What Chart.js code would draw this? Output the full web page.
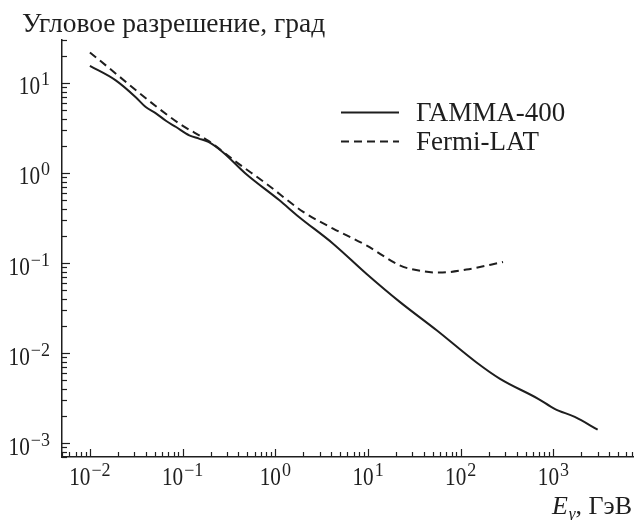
<!DOCTYPE html>
<html>
<head>
<meta charset="utf-8">
<script src="https://cdn.jsdelivr.net/npm/chart.js@4.4.0/dist/chart.umd.min.js"></script>
<style>
  body { margin: 0; background: #fff; }
  #wrap { width: 634px; height: 520px; }
</style>
</head>
<body>
<div id="wrap"><canvas id="resChart" width="634" height="520"></canvas></div>
<script>
// ГАММА-400
var gammaEnergy = [0.01, 0.019, 0.031, 0.04, 0.052, 0.066, 0.085, 0.118, 0.15, 0.19, 0.27, 0.48, 1.1, 1.8, 4.2, 9.6, 22, 55, 147, 263, 685, 1030, 1700, 3000];
var gammaRes = [15.5, 10.7, 7.0, 5.4, 4.57, 3.8, 3.24, 2.62, 2.41, 2.21, 1.71, 0.98, 0.5, 0.325, 0.164, 0.076, 0.037, 0.0179, 0.0079, 0.0052, 0.0031, 0.0024, 0.00195, 0.00141];

// Fermi-LAT
var fermiEnergy = [0.01, 0.092, 0.19, 0.38, 0.8, 2.0, 4.2, 9.6, 22, 28, 59, 115, 286];
var fermiRes = [21.8, 3.54, 2.27, 1.32, 0.76, 0.37, 0.241, 0.157, 0.094, 0.0866, 0.0782, 0.0845, 0.1026];

var seriesNames = ['ГАММА-400', 'Fermi-LAT'];
var xTicks = [0.01, 0.1, 1, 10, 100, 1000];
var xTickExps = ['−2', '−1', '0', '1', '2', '3'];
var yTicks = [0.001, 0.01, 0.1, 1, 10];
var yTickExps = ['−3', '−2', '−1', '0', '1'];
var yTitle = 'Угловое разрешение, град';
var xTitle = ['E', 'γ', ', ГэВ'];

var ink = '#1e1e1e';
var serif = '"Liberation Serif", "Times New Roman", serif';

function toPoints(xs, ys) {
    return xs.map(function (x, i) { return {x: x, y: ys[i]}; });
}

// short inward ticks for 1..9 of every decade
function drawLogTicks(ctx, scale, horizontal, area) {
    var lo = Math.floor(Math.log10(scale.min));
    var hi = Math.ceil(Math.log10(scale.max));
    for (var e = lo; e <= hi; e++) {
        for (var k = 1; k < 10; k++) {
            var v = k * Math.pow(10, e);
            if (v < scale.min * 0.999 || v > scale.max * 1.001) continue;
            var p = Math.round(scale.getPixelForValue(v)) + 0.5;
            var len = k === 1 ? 8 : 5;
            ctx.beginPath();
            if (horizontal) {
                ctx.moveTo(p, area.bottom);
                ctx.lineTo(p, area.bottom - len);
            } else {
                ctx.moveTo(area.left, p);
                ctx.lineTo(area.left + len, p);
            }
            ctx.stroke();
        }
    }
}

// "10" with a raised exponent; the digits are a bit condensed like the print
function drawPow(ctx, exp, x, y, align) {
    var squeeze = 0.85;
    ctx.font = '25px ' + serif;
    var wBase = ctx.measureText('10').width * squeeze;
    ctx.font = '18px ' + serif;
    var wExp = ctx.measureText(exp).width;
    var total = wBase + 1 + wExp;
    var left = align === 'center' ? x - total / 2 : x - total;
    ctx.save();
    ctx.translate(left, y);
    ctx.scale(squeeze, 1);
    ctx.font = '25px ' + serif;
    ctx.fillText('10', 0, 0);
    ctx.restore();
    ctx.font = '18px ' + serif;
    ctx.fillText(exp, left + wBase + 1, y - 9);
}

var decorPlugin = {
    id: 'decor',
    afterDraw: function (chart) {
        var ctx = chart.ctx;
        var area = chart.chartArea;
        var sx = chart.scales.x, sy = chart.scales.y;
        ctx.save();
        ctx.strokeStyle = ink;
        ctx.lineWidth = 1.2;
        drawLogTicks(ctx, sx, true, area);
        drawLogTicks(ctx, sy, false, area);

        ctx.fillStyle = ink;
        ctx.textBaseline = 'alphabetic';
        ctx.textAlign = 'left';

        // tick labels
        xTicks.forEach(function (v, i) {
            drawPow(ctx, xTickExps[i], sx.getPixelForValue(v), area.bottom + 28, 'center');
        });
        yTicks.forEach(function (v, i) {
            drawPow(ctx, yTickExps[i], area.left - 12, sy.getPixelForValue(v) + 11.5, 'right');
        });

        // y title
        ctx.font = '27.5px ' + serif;
        ctx.fillText(yTitle, 22, 32);

        // x title, right aligned
        var fE = 'italic 26px ' + serif, fG = 'italic 17px ' + serif, fR = '26px ' + serif;
        ctx.font = fE; var wE = ctx.measureText(xTitle[0]).width;
        ctx.font = fG; var wG = ctx.measureText(xTitle[1]).width;
        ctx.font = fR; var wR = ctx.measureText(xTitle[2]).width;
        var x0 = 632 - wE - wG - wR - 1;
        ctx.font = fE; ctx.fillText(xTitle[0], x0, 514);
        ctx.font = fG; ctx.fillText(xTitle[1], x0 + wE + 1, 519);
        ctx.font = fR; ctx.fillText(xTitle[2], x0 + wE + wG + 1, 514);

        // legend
        var rows = [112, 141];
        chart.data.datasets.forEach(function (ds, i) {
            ctx.beginPath();
            ctx.lineWidth = ds.borderWidth;
            ctx.strokeStyle = ds.borderColor;
            ctx.setLineDash(ds.borderDash || []);
            ctx.moveTo(341, rows[i] + 0.5);
            ctx.lineTo(399, rows[i] + 0.5);
            ctx.stroke();
            ctx.setLineDash([]);
            ctx.font = '27px ' + serif;
            ctx.fillText(ds.label, 416, rows[i] + 9);
        });
        ctx.restore();
    }
};

var ctxL = document.getElementById('resChart').getContext('2d');
var resChart = new Chart(ctxL, {
    type: 'line',
    data: {
        datasets: [{
            label: seriesNames[0],
            data: toPoints(gammaEnergy, gammaRes),
            borderColor: ink,
            borderWidth: 2,
            pointRadius: 0,
            cubicInterpolationMode: 'monotone',
            fill: false
        }, {
            label: seriesNames[1],
            data: toPoints(fermiEnergy, fermiRes),
            borderColor: ink,
            borderWidth: 2,
            borderDash: [8, 5],
            pointRadius: 0,
            cubicInterpolationMode: 'monotone',
            fill: false
        }]
    },
    options: {
        responsive: false,
        animation: false,
        layout: {padding: {top: 40, right: 0, left: 0, bottom: 0}},
        plugins: {
            legend: {display: false},
            tooltip: {enabled: false}
        },
        scales: {
            x: {
                type: 'logarithmic',
                min: 0.005,
                max: 7400,
                grid: {display: false},
                border: {display: true, color: ink, width: 1.5},
                afterBuildTicks: function (s) {
                    s.ticks = xTicks.map(function (v) { return {value: v}; });
                },
                afterFit: function (s) { s.height = 63; },
                ticks: {display: false}
            },
            y: {
                type: 'logarithmic',
                min: 0.0007,
                max: 30,
                grid: {display: false},
                border: {display: true, color: ink, width: 1.5},
                afterBuildTicks: function (s) {
                    s.ticks = yTicks.map(function (v) { return {value: v}; });
                },
                afterFit: function (s) { s.width = 62; },
                ticks: {display: false}
            }
        }
    },
    plugins: [decorPlugin]
});
</script>
</body>
</html>
